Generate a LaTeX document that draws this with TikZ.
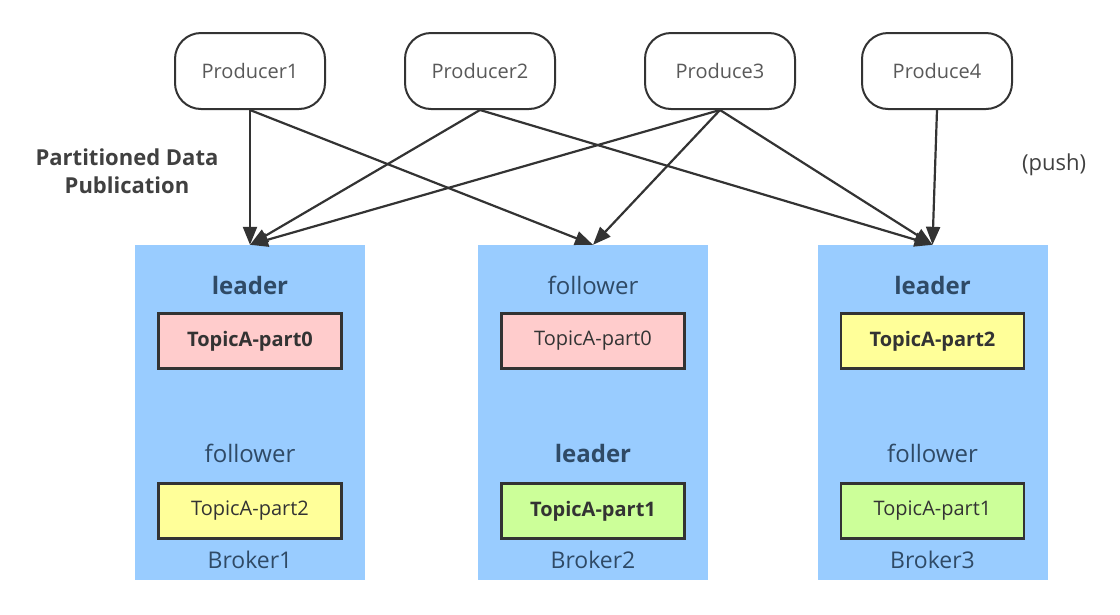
\documentclass[tikz,border=0pt]{standalone}
\usepackage{fontspec}
\setmainfont{Open Sans}
\usetikzlibrary{arrows.meta}
\definecolor{brokerblue}{HTML}{99CCFF}
\definecolor{partpink}{HTML}{FFCCCC}
\definecolor{partyellow}{HTML}{FFFF99}
\definecolor{partgreen}{HTML}{CCFF99}
\definecolor{linegray}{HTML}{333333}
\definecolor{brokertext}{HTML}{2F4A66}
\tikzset{
	producer/.style={draw=linegray, line width=2pt, rounded corners=26pt, minimum width=150pt, minimum height=76pt, fill=white, text=black!65, font=\fontsize{20}{24}\selectfont},
	broker/.style={fill=brokerblue, minimum width=230pt, minimum height=335pt, inner sep=0pt},
	part/.style={draw=linegray, line width=2.4pt, minimum width=183pt, minimum height=55pt, text=black!80, font=\fontsize{20}{24}\selectfont},
	partbold/.style={part, font=\fontsize{20}{24}\selectfont\bfseries},
	role/.style={text=brokertext, font=\fontsize{24}{28}\selectfont},
	lead/.style={role, font=\fontsize{24}{28}\selectfont\bfseries},
	push/.style={-{Triangle[length=18pt,width=14pt]}, line width=2.2pt, draw=linegray},
}
\begin{document}
\begin{tikzpicture}[x=1pt,y=-1pt]
			%%%%% START %%%%%
			\useasboundingbox (0,0) rectangle (1120,614);
			
			\node[producer] (p1) at (250,71) {Producer1};
			\node[producer] (p2) at (480,71) {Producer2};
			\node[producer] (p3) at (720,71) {Produce3};
			\node[producer] (p4) at (937,71) {Produce4};
			
			\node[align=center, text=black!75, font=\fontsize{22}{28}\selectfont\bfseries] (pdp) at (127,171) {Partitioned Data\\Publication};
			\node[text=black!75, font=\fontsize{22}{26}\selectfont] (pushlbl) at (1054,165) {(push)};
			
			\node[broker] (b1) at (250,412.5) {};
			\node[broker] (b2) at (593,412.5) {};
			\node[broker] (b3) at (932.5,412.5) {};
			
			\node[lead] (b1r1) at (250,285) {leader};
			\node[partbold, fill=partpink] (b1p0) at (250,341) {TopicA-part0};
			\node[role] (b1r2) at (250,453) {follower};
			\node[part, fill=partyellow] (b1p2) at (250,511) {TopicA-part2};
			\node[role, font=\fontsize{23}{26}\selectfont] (b1lbl) at (250,560) {Broker1};
			
			\node[role] (b2r1) at (593,285) {follower};
			\node[part, fill=partpink] (b2p0) at (593,341) {TopicA-part0};
			\node[lead] (b2r2) at (593,453) {leader};
			\node[partbold, fill=partgreen] (b2p1) at (593,511) {TopicA-part1};
			\node[role, font=\fontsize{23}{26}\selectfont] (b2lbl) at (593,560) {Broker2};
			
			\node[lead] (b3r1) at (932.5,285) {leader};
			\node[partbold, fill=partyellow] (b3p2) at (932.5,341) {TopicA-part2};
			\node[role] (b3r2) at (932.5,453) {follower};
			\node[part, fill=partgreen] (b3p1) at (932.5,511) {TopicA-part1};
			\node[role, font=\fontsize{23}{26}\selectfont] (b3lbl) at (932.5,560) {Broker3};
			
			\draw[push] (p1.south) -- (b1.north);
			\draw[push] (p1.south) -- (b2.north);
			\draw[push] (p2.south) -- (b1.north);
			\draw[push] (p2.south) -- (b3.north);
			\draw[push] (p3.south) -- (b1.north);
			\draw[push] (p3.south) -- (b2.north);
			\draw[push] (p3.south) -- (b3.north);
			\draw[push] (p4.south) -- (b3.north);
			
			%%%%% END %%%%%
\end{tikzpicture}
\end{document}
